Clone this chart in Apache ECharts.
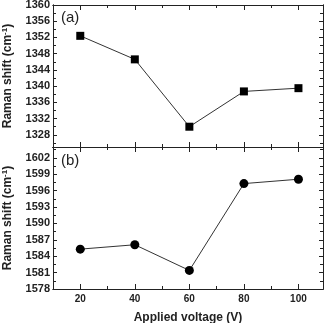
<!DOCTYPE html>
<html>
<head>
<meta charset="utf-8">
<script src="https://cdn.jsdelivr.net/npm/echarts@6.0.0/dist/echarts.min.js"></script>
<style>
  html, body { margin: 0; padding: 0; background: #fff; }
  #chart { width: 330px; height: 323px; }
</style>
</head>
<body>
<div id="chart"></div>
<script>
// data
const voltage = [20, 40, 60, 80, 100]
const ramanTop = [1352.4, 1346.6, 1330.0, 1338.7, 1339.5] // (a)
const ramanBottom = [1585.3, 1586.1, 1581.4, 1597.3, 1598.1] // (b)

// tick values
const xMajor = [20, 40, 60, 80, 100]
const xMinor = [30, 50, 70, 90]
const yTopMajor = [1328, 1332, 1336, 1340, 1344, 1348, 1352, 1356, 1360]
const yTopMinor = [1326, 1330, 1334, 1338, 1342, 1346, 1350, 1354, 1358]
const yBotMajor = [1578, 1581, 1584, 1587, 1590, 1593, 1596, 1599, 1602]
const yBotMinor = [1579.5, 1582.5, 1585.5, 1588.5, 1591.5, 1594.5, 1597.5, 1600.5, 1603.5]

const axisColor = '#222'
const font = '"Liberation Sans", Arial, sans-serif'

// one axis = one set of ticks (major or minor), all ticks point inside
const makeAxis = (gridIndex, position, ticks, len, min, max, extra) => Object.assign({
  type: 'value',
  gridIndex: gridIndex,
  position: position,
  min: min,
  max: max,
  axisLine: { show: true, onZero: false, lineStyle: { color: axisColor, width: 1 } },
  axisTick: { show: true, inside: true, length: len, customValues: ticks, lineStyle: { color: axisColor, width: 1 } },
  axisLabel: { show: false },
  splitLine: { show: false }
}, extra || {})

const xLabel = {
  show: true, customValues: xMajor, margin: 5,
  color: axisColor, fontSize: 10, fontWeight: 'bold', fontFamily: font
}
const yLabel = (vals) => ({
  show: true, customValues: vals, margin: 3,
  formatter: (v) => String(v), // no thousands separator
  color: axisColor, fontSize: 11, fontWeight: 'bold', fontFamily: font
})
const yName = {
  name: 'Raman shift (cm{sup|-1})',
  nameLocation: 'middle',
  nameGap: 38,
  nameTextStyle: {
    color: axisColor, fontSize: 12, fontWeight: 'bold', fontFamily: font,
    rich: { sup: { fontSize: 8, fontWeight: 'bold', fontFamily: font, color: axisColor, verticalAlign: 'top', padding: [0, 0, 6, 0] } }
  }
}

const myChart = echarts.init(document.getElementById('chart'), null, { renderer: 'canvas' })

const option = {
  animation: false,
  backgroundColor: '#fff',
  title: [
    { text: '(a)', left: 61, top: 10, padding: 0, textStyle: { fontSize: 15, fontWeight: 'normal', fontFamily: font, color: axisColor } },
    { text: '(b)', left: 61, top: 153, padding: 0, textStyle: { fontSize: 15, fontWeight: 'normal', fontFamily: font, color: axisColor } }
  ],
  grid: [
    { left: 53, right: 7, top: 5, height: 142, outerBoundsMode: 'none' },
    { left: 53, right: 7, top: 147, height: 142, outerBoundsMode: 'none' }
  ],
  xAxis: [
    makeAxis(0, 'bottom', xMajor, 5, 10, 109),
    makeAxis(0, 'bottom', xMinor, 3, 10, 109),
    makeAxis(0, 'top', xMajor, 5, 10, 109),
    makeAxis(0, 'top', xMinor, 3, 10, 109),
    makeAxis(1, 'top', xMajor, 5, 10, 109),
    makeAxis(1, 'top', xMinor, 3, 10, 109),
    makeAxis(1, 'bottom', xMajor, 5, 10, 109, {
      axisLabel: xLabel,
      name: 'Applied voltage (V)',
      nameLocation: 'middle',
      nameGap: 23,
      nameTextStyle: { color: axisColor, fontSize: 12, fontWeight: 'bold', fontFamily: font }
    }),
    makeAxis(1, 'bottom', xMinor, 3, 10, 109)
  ],
  yAxis: [
    makeAxis(0, 'left', yTopMajor, 4, 1325, 1360, Object.assign({ axisLabel: yLabel(yTopMajor) }, yName)),
    makeAxis(0, 'left', yTopMinor, 3, 1325, 1360),
    makeAxis(0, 'right', yTopMajor, 4, 1325, 1360),
    makeAxis(0, 'right', yTopMinor, 3, 1325, 1360),
    makeAxis(1, 'left', yBotMajor, 4, 1578, 1604, Object.assign({ axisLabel: yLabel(yBotMajor) }, yName)),
    makeAxis(1, 'left', yBotMinor, 3, 1578, 1604),
    makeAxis(1, 'right', yBotMajor, 4, 1578, 1604),
    makeAxis(1, 'right', yBotMinor, 3, 1578, 1604)
  ],
  series: [
    {
      type: 'line',
      xAxisIndex: 0,
      yAxisIndex: 0,
      data: voltage.map((v, i) => [v, ramanTop[i]]),
      symbol: 'rect',
      symbolSize: 8,
      showAllSymbol: true,
      lineStyle: { color: '#333', width: 1 },
      itemStyle: { color: '#000' }
    },
    {
      type: 'line',
      xAxisIndex: 6,
      yAxisIndex: 4,
      data: voltage.map((v, i) => [v, ramanBottom[i]]),
      symbol: 'circle',
      symbolSize: 9,
      showAllSymbol: true,
      lineStyle: { color: '#333', width: 1 },
      itemStyle: { color: '#000' }
    }
  ]
}
option && myChart.setOption(option)
</script>
</body>
</html>
